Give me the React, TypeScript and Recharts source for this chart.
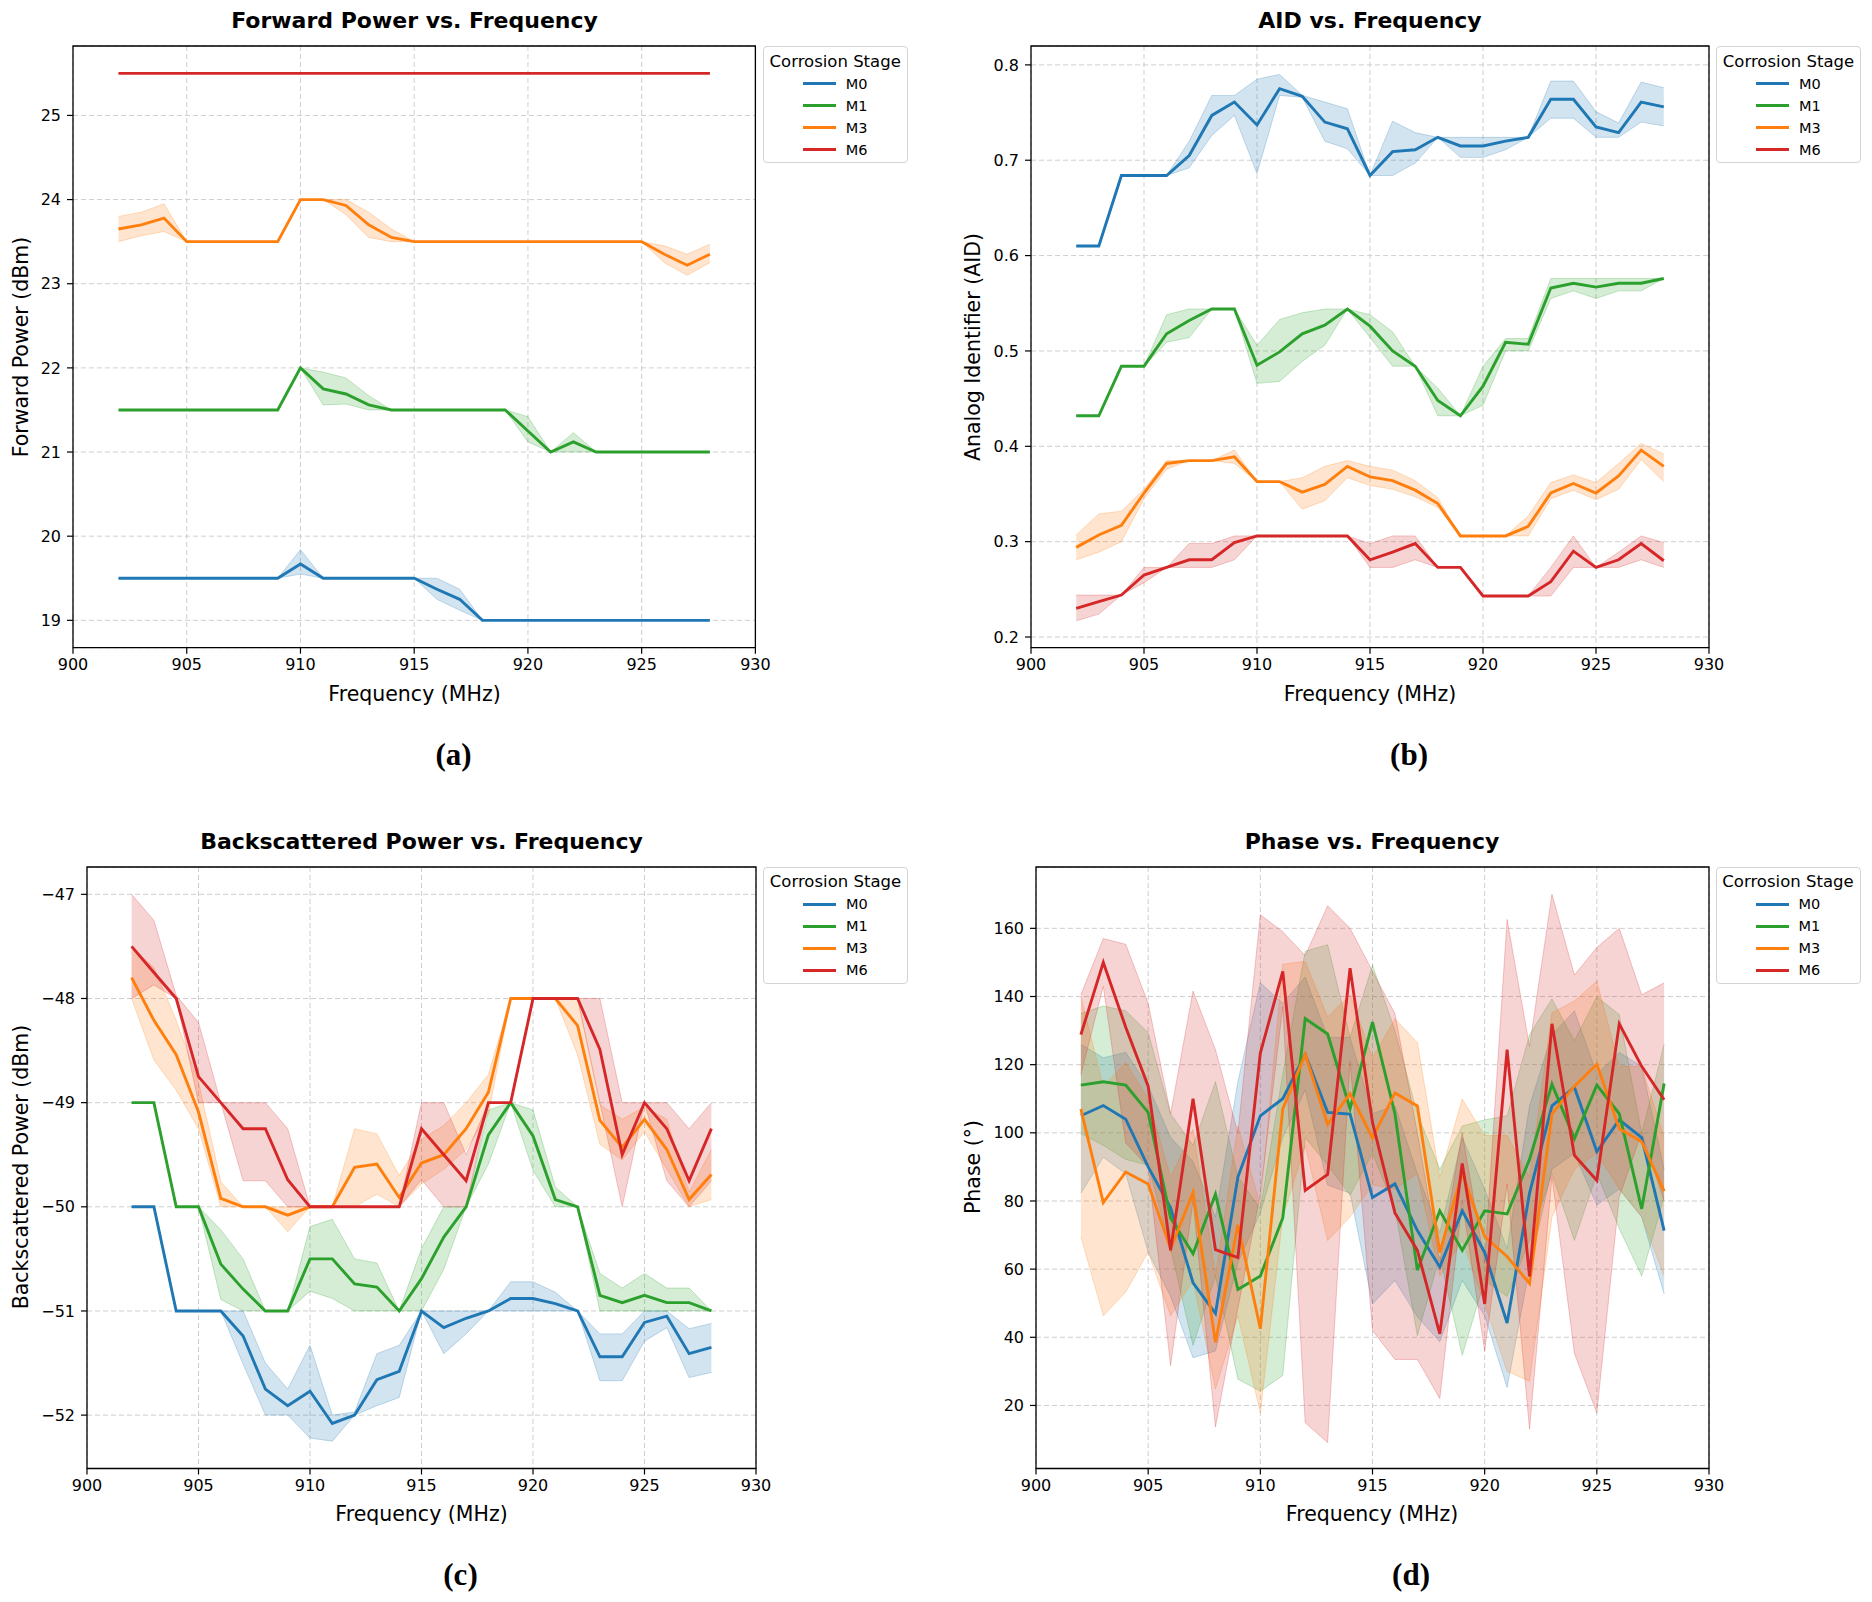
import React from 'react'
import { ComposedChart, Line, Area, XAxis, YAxis, CartesianGrid, ReferenceArea } from 'recharts'

const freqs = [902, 903, 904, 905, 906, 907, 908, 909, 910, 911, 912, 913, 914, 915, 916, 917, 918, 919, 920, 921, 922, 923, 924, 925, 926, 927, 928]
const xTicks = [900, 905, 910, 915, 920, 925, 930]
const stages = ['M0', 'M1', 'M3', 'M6']
const colors = ['#1f77b4', '#2ca02c', '#ff7f0e', '#d62728']

// (a) forward power, dBm
const fpM0 = [19.5, 19.5, 19.5, 19.5, 19.5, 19.5, 19.5, 19.5, 19.67, 19.5, 19.5, 19.5, 19.5, 19.5, 19.37, 19.25, 19.0, 19.0, 19.0, 19.0, 19.0, 19.0, 19.0, 19.0, 19.0, 19.0, 19.0]
const fpM0Lo = [19.5, 19.5, 19.5, 19.5, 19.5, 19.5, 19.5, 19.5, 19.55, 19.5, 19.5, 19.5, 19.5, 19.5, 19.25, 19.12, 19.0, 19.0, 19.0, 19.0, 19.0, 19.0, 19.0, 19.0, 19.0, 19.0, 19.0]
const fpM0Hi = [19.5, 19.5, 19.5, 19.5, 19.5, 19.5, 19.5, 19.5, 19.84, 19.5, 19.5, 19.5, 19.5, 19.5, 19.5, 19.37, 19.0, 19.0, 19.0, 19.0, 19.0, 19.0, 19.0, 19.0, 19.0, 19.0, 19.0]
const fpM1 = [21.5, 21.5, 21.5, 21.5, 21.5, 21.5, 21.5, 21.5, 22.0, 21.75, 21.69, 21.56, 21.5, 21.5, 21.5, 21.5, 21.5, 21.5, 21.25, 21.0, 21.12, 21.0, 21.0, 21.0, 21.0, 21.0, 21.0]
const fpM1Lo = [21.5, 21.5, 21.5, 21.5, 21.5, 21.5, 21.5, 21.5, 22.0, 21.56, 21.57, 21.5, 21.5, 21.5, 21.5, 21.5, 21.5, 21.5, 21.12, 21.0, 21.0, 21.0, 21.0, 21.0, 21.0, 21.0, 21.0]
const fpM1Hi = [21.5, 21.5, 21.5, 21.5, 21.5, 21.5, 21.5, 21.5, 22.0, 21.95, 21.88, 21.67, 21.5, 21.5, 21.5, 21.5, 21.5, 21.5, 21.42, 21.0, 21.23, 21.0, 21.0, 21.0, 21.0, 21.0, 21.0]
const fpM3 = [23.65, 23.7, 23.78, 23.5, 23.5, 23.5, 23.5, 23.5, 24.0, 24.0, 23.93, 23.7, 23.55, 23.5, 23.5, 23.5, 23.5, 23.5, 23.5, 23.5, 23.5, 23.5, 23.5, 23.5, 23.35, 23.22, 23.35]
const fpM3Lo = [23.5, 23.57, 23.62, 23.5, 23.5, 23.5, 23.5, 23.5, 24.0, 24.0, 23.82, 23.55, 23.5, 23.5, 23.5, 23.5, 23.5, 23.5, 23.5, 23.5, 23.5, 23.5, 23.5, 23.5, 23.25, 23.1, 23.25]
const fpM3Hi = [23.8, 23.85, 23.95, 23.5, 23.5, 23.5, 23.5, 23.5, 24.0, 24.0, 24.0, 23.85, 23.65, 23.5, 23.5, 23.5, 23.5, 23.5, 23.5, 23.5, 23.5, 23.5, 23.5, 23.5, 23.45, 23.35, 23.47]
const fpM6 = [25.5, 25.5, 25.5, 25.5, 25.5, 25.5, 25.5, 25.5, 25.5, 25.5, 25.5, 25.5, 25.5, 25.5, 25.5, 25.5, 25.5, 25.5, 25.5, 25.5, 25.5, 25.5, 25.5, 25.5, 25.5, 25.5, 25.5]

// (b) analog identifier
const aidM0 = [0.61, 0.61, 0.684, 0.684, 0.684, 0.705, 0.747, 0.761, 0.737, 0.775, 0.767, 0.74, 0.733, 0.684, 0.709, 0.711, 0.724, 0.715, 0.715, 0.72, 0.724, 0.764, 0.764, 0.735, 0.729, 0.761, 0.756]
const aidM0Lo = [0.61, 0.61, 0.684, 0.684, 0.684, 0.692, 0.726, 0.747, 0.686, 0.768, 0.766, 0.72, 0.712, 0.684, 0.684, 0.697, 0.724, 0.703, 0.703, 0.711, 0.724, 0.744, 0.744, 0.724, 0.724, 0.74, 0.736]
const aidM0Hi = [0.61, 0.61, 0.684, 0.684, 0.684, 0.72, 0.768, 0.768, 0.785, 0.79, 0.768, 0.761, 0.754, 0.684, 0.741, 0.729, 0.724, 0.724, 0.724, 0.724, 0.724, 0.783, 0.783, 0.751, 0.739, 0.782, 0.776]
const aidM1 = [0.432, 0.432, 0.484, 0.484, 0.518, 0.532, 0.544, 0.544, 0.485, 0.499, 0.518, 0.527, 0.544, 0.526, 0.5, 0.484, 0.448, 0.432, 0.463, 0.509, 0.507, 0.566, 0.571, 0.567, 0.571, 0.571, 0.576]
const aidM1Lo = [0.432, 0.432, 0.484, 0.484, 0.509, 0.514, 0.544, 0.544, 0.466, 0.468, 0.489, 0.506, 0.544, 0.514, 0.484, 0.484, 0.432, 0.432, 0.443, 0.5, 0.5, 0.555, 0.563, 0.555, 0.563, 0.563, 0.576]
const aidM1Hi = [0.432, 0.432, 0.484, 0.484, 0.538, 0.544, 0.544, 0.544, 0.506, 0.533, 0.54, 0.544, 0.544, 0.538, 0.52, 0.484, 0.461, 0.432, 0.484, 0.513, 0.513, 0.576, 0.576, 0.576, 0.576, 0.576, 0.576]
const aidM3 = [0.294, 0.307, 0.317, 0.351, 0.382, 0.385, 0.385, 0.389, 0.363, 0.363, 0.352, 0.36, 0.379, 0.368, 0.364, 0.354, 0.34, 0.306, 0.306, 0.306, 0.316, 0.351, 0.361, 0.351, 0.369, 0.396, 0.379]
const aidM3Lo = [0.281, 0.289, 0.3, 0.345, 0.376, 0.385, 0.385, 0.382, 0.363, 0.363, 0.334, 0.343, 0.367, 0.359, 0.355, 0.347, 0.336, 0.306, 0.306, 0.306, 0.306, 0.345, 0.354, 0.344, 0.355, 0.386, 0.363]
const aidM3Hi = [0.307, 0.329, 0.332, 0.355, 0.385, 0.385, 0.385, 0.396, 0.363, 0.363, 0.367, 0.379, 0.385, 0.379, 0.375, 0.364, 0.346, 0.306, 0.306, 0.306, 0.327, 0.362, 0.37, 0.362, 0.382, 0.403, 0.392]
const aidM6 = [0.23, 0.237, 0.244, 0.265, 0.273, 0.281, 0.281, 0.299, 0.306, 0.306, 0.306, 0.306, 0.306, 0.281, 0.289, 0.298, 0.273, 0.273, 0.243, 0.243, 0.243, 0.258, 0.29, 0.273, 0.281, 0.298, 0.28]
const aidM6Lo = [0.217, 0.224, 0.244, 0.257, 0.273, 0.273, 0.273, 0.281, 0.306, 0.306, 0.306, 0.306, 0.306, 0.273, 0.273, 0.281, 0.273, 0.273, 0.243, 0.243, 0.243, 0.243, 0.273, 0.273, 0.273, 0.281, 0.273]
const aidM6Hi = [0.244, 0.244, 0.244, 0.273, 0.273, 0.298, 0.298, 0.306, 0.306, 0.306, 0.306, 0.306, 0.306, 0.298, 0.306, 0.306, 0.273, 0.273, 0.243, 0.243, 0.243, 0.273, 0.306, 0.273, 0.289, 0.306, 0.299]

// (c) backscattered power, dBm
const bpM0 = [-50, -50, -51, -51, -51, -51.24, -51.75, -51.91, -51.77, -52.08, -52.0, -51.66, -51.58, -51.0, -51.16, -51.07, -51.0, -50.88, -50.88, -50.93, -51.0, -51.44, -51.44, -51.11, -51.05, -51.41, -51.35]
const bpM0Lo = [-50, -50, -51, -51, -51, -51.51, -52.0, -52.0, -52.22, -52.25, -52.0, -51.91, -51.83, -51.0, -51.41, -51.22, -51.0, -51.0, -51.0, -51.0, -51.0, -51.67, -51.67, -51.29, -51.16, -51.64, -51.59]
const bpM0Hi = [-50, -50, -51, -51, -51, -51.0, -51.5, -51.75, -51.33, -52.0, -51.97, -51.41, -51.33, -51.0, -51.0, -51.0, -51.0, -50.72, -50.72, -50.82, -51.0, -51.22, -51.22, -51.0, -51.0, -51.17, -51.12]
const bpM1 = [-49, -49, -50, -50, -50.55, -50.79, -51, -51, -50.5, -50.5, -50.74, -50.77, -51, -50.69, -50.29, -50, -49.31, -49, -49.32, -49.93, -50, -50.85, -50.92, -50.85, -50.92, -50.92, -51]
const bpM1Lo = [-49, -49, -50, -50, -50.89, -51, -51, -51, -50.81, -50.88, -51, -51, -51, -51, -50.6, -50, -49.59, -49, -49.65, -50, -50, -51, -51, -51, -51, -51, -51]
const bpM1Hi = [-49, -49, -50, -50, -50.22, -50.5, -51, -51, -50.19, -50.12, -50.5, -50.54, -51, -50.4, -50.0, -50, -49.07, -49, -49.07, -49.81, -50, -50.64, -50.78, -50.64, -50.78, -50.78, -51]
const bpM3 = [-47.8, -48.21, -48.54, -49.09, -49.92, -50, -50, -50.08, -50, -50, -49.62, -49.59, -49.91, -49.58, -49.5, -49.25, -48.9, -48, -48, -48, -48.26, -49.17, -49.43, -49.16, -49.45, -49.93, -49.69]
const bpM3Lo = [-48, -48.59, -48.88, -49.25, -50, -50, -50, -50.24, -50, -50, -50, -49.88, -50, -49.78, -49.64, -49.45, -49.11, -48, -48, -48, -48.54, -49.4, -49.55, -49.28, -49.64, -50, -49.93]
const bpM3Hi = [-47.51, -47.7, -48.21, -48.8, -49.76, -50, -50, -50, -50, -50, -49.25, -49.3, -49.7, -49.35, -49.22, -49.0, -48.73, -48, -48, -48, -48, -49.02, -49.16, -49.04, -49.16, -49.86, -49.45]
const bpM6 = [-47.5, -47.75, -48, -48.75, -49, -49.25, -49.25, -49.74, -50, -50, -50, -50, -50, -49.25, -49.5, -49.75, -49, -49, -48, -48, -48, -48.49, -49.5, -49, -49.25, -49.75, -49.25]
const bpM6Lo = [-48, -47.87, -48, -49, -49, -49.75, -49.75, -50, -50, -50, -50, -50, -50, -49.74, -50, -50, -49, -49, -48, -48, -48, -49, -50, -49, -49.75, -50, -49.75]
const bpM6Hi = [-47, -47.25, -47.97, -48.23, -49, -49, -49, -49.25, -50, -50, -50, -50, -50, -49, -49, -49.5, -49, -49, -48, -48, -48, -48, -49, -49, -49, -49.25, -49]

// (d) phase, degrees
const phM0 = [105, 108, 104, 90, 78, 56, 47, 87, 105, 110, 123, 106, 105.5, 81, 85, 71.3, 60.6, 77.1, 64.9, 44.2, 82.3, 107.9, 113.4, 94.5, 103.8, 98.6, 71.3]
const phM0Lo = [82.3, 92.8, 88, 65, 52, 34, 36, 62, 76.5, 98.6, 112.6, 84.7, 82.3, 49.8, 56.7, 46, 38.7, 56.7, 46.3, 25.3, 60.3, 89.3, 94, 78.8, 83.5, 75.3, 52.7]
const phM0Hi = [126, 122, 123.6, 113.7, 98.6, 91.6, 75.3, 115, 144, 138, 145.7, 128, 128, 105.6, 108, 88, 70.7, 98.6, 83.5, 66, 107.9, 128.8, 135.8, 117.2, 123.6, 119.5, 89.3]
const phM1 = [114, 115, 114, 106, 75, 64.5, 82, 54, 58, 75, 133.5, 129, 107, 132.5, 105.6, 59.7, 77.1, 65.5, 77.1, 76.2, 92.2, 114.3, 98.3, 114, 105.6, 77.7, 114.5]
const phM1Lo = [99.8, 96.3, 92.2, 90.5, 66, 37.6, 58, 27.7, 24.2, 28.8, 98.6, 90.5, 81.7, 94, 77.7, 40.5, 63.7, 34.7, 56.7, 52, 68.4, 88, 68.4, 88, 71.9, 58, 81.2]
const phM1Hi = [135, 137.2, 135.8, 129.4, 105.6, 96.3, 115, 87, 77.7, 117.2, 153.3, 155.2, 128, 149.2, 130, 105.6, 89.3, 102, 103.8, 105, 128.8, 139.3, 127, 139.9, 134.7, 99.8, 126]
const phM3 = [107, 79.5, 88.5, 85, 66, 82.5, 38.5, 73, 42.5, 107, 123, 102.5, 111.5, 98.5, 111.7, 107.9, 64.9, 88.1, 69.5, 63.7, 55.8, 105.6, 113.7, 120.1, 101.2, 97.4, 82.9]
const phM3Lo = [69.5, 46.3, 53.3, 65, 46.3, 56.7, 24.8, 46.3, 17.8, 75.3, 96.3, 68.4, 75.3, 84.7, 83.5, 88, 58, 68.4, 49.8, 30, 27.1, 75.3, 89.3, 94, 83.5, 75.3, 58]
const phM3Hi = [140, 113.7, 120.7, 110, 87, 101, 58, 102, 78.8, 149.5, 150.3, 134, 140.5, 122, 133.5, 126.5, 87, 109.9, 99.2, 99.2, 87, 135.2, 138.7, 144.5, 119.5, 119.5, 98.6]
const phM6 = [128.8, 150, 131, 113.7, 65.5, 110, 65.7, 63.4, 123.4, 147.4, 83.1, 87.8, 148.3, 103, 76.5, 65.5, 41, 91, 49.8, 124.4, 57.9, 132, 93.4, 86, 132, 119.5, 109.7]
const phM6Lo = [117, 143, 97, 90, 31.7, 80, 13.7, 48.6, 82, 137, 14.9, 9.1, 121, 42, 33.5, 33.5, 22, 80, 36, 85, 13.1, 87, 35.3, 17.8, 81.2, 100, 80]
const phM6Hi = [140.5, 157, 155.3, 138, 105.6, 141.6, 124.4, 100, 164, 159, 152, 166.6, 160, 147.4, 135, 100, 62, 100, 62, 162.6, 125.3, 170, 146.3, 154.4, 160, 140.5, 144]

const panels = [
  {
    key: 'a', title: 'Forward Power vs. Frequency', ylabel: 'Forward Power (dBm)',
    domain: [18.675, 25.825], ticks: [19, 20, 21, 22, 23, 24, 25],
    box: { left: 73.3, top: 46, right: 755.7, bottom: 647.7 }, ylabelX: 21,
    series: [[fpM0, fpM0Lo, fpM0Hi], [fpM1, fpM1Lo, fpM1Hi], [fpM3, fpM3Lo, fpM3Hi], [fpM6, fpM6, fpM6]],
  },
  {
    key: 'b', title: 'AID vs. Frequency', ylabel: 'Analog Identifier (AID)',
    domain: [0.1888, 0.8198], ticks: [0.2, 0.3, 0.4, 0.5, 0.6, 0.7, 0.8],
    box: { left: 1031, top: 46, right: 1709, bottom: 647.7 }, ylabelX: 973,
    series: [[aidM0, aidM0Lo, aidM0Hi], [aidM1, aidM1Lo, aidM1Hi], [aidM3, aidM3Lo, aidM3Hi], [aidM6, aidM6Lo, aidM6Hi]],
  },
  {
    key: 'c', title: 'Backscattered Power vs. Frequency', ylabel: 'Backscattered Power (dBm)',
    domain: [-52.5125, -46.7375], ticks: [-52, -51, -50, -49, -48, -47],
    box: { left: 87, top: 866.5, right: 756, bottom: 1468 }, ylabelX: 21,
    series: [[bpM0, bpM0Lo, bpM0Hi], [bpM1, bpM1Lo, bpM1Hi], [bpM3, bpM3Lo, bpM3Hi], [bpM6, bpM6Lo, bpM6Hi]],
  },
  {
    key: 'd', title: 'Phase vs. Frequency', ylabel: 'Phase (°)',
    domain: [1.5, 178], ticks: [20, 40, 60, 80, 100, 120, 140, 160],
    box: { left: 1035.5, top: 866.5, right: 1708.5, bottom: 1468 }, ylabelX: 973,
    series: [[phM0, phM0Lo, phM0Hi], [phM1, phM1Lo, phM1Hi], [phM3, phM3Lo, phM3Hi], [phM6, phM6Lo, phM6Hi]],
  },
]

const FONT = '"DejaVu Sans", sans-serif'
const Y_W = 80
const M_TOP = 10
const M_RIGHT = 30
const X_H = 40

const fmt = (v: number) => String(v).replace('-', '\u2212')

const Panel = ({ p }: { p: any }) => {
  const rows = freqs.map((f, i) => {
    const r: any = { f }
    p.series.forEach((s: number[][], k: number) => {
      r['v' + k] = s[0][i]
      r['b' + k] = [s[1][i], s[2][i]]
    })
    return r
  })
  const { left, top, right, bottom } = p.box
  const w = right - left
  const h = bottom - top
  const cx = (left + right) / 2
  const tick = { fontSize: 16, fill: '#000', fontFamily: FONT }

  return (
    <>
      <div style={{ position: 'absolute', left: cx, top: top - 26, transform: 'translate(-50%, -50%)', fontSize: 22, fontWeight: 'bold', whiteSpace: 'nowrap' }}>
        {p.title}
      </div>
      <div style={{ position: 'absolute', left: left - Y_W, top: top - M_TOP }}>
        <ComposedChart width={w + Y_W + M_RIGHT} height={h + M_TOP + X_H} data={rows} margin={{ top: M_TOP, right: M_RIGHT, left: 0, bottom: 0 }}>
          <CartesianGrid strokeDasharray="5 3" stroke="#cfcfcf" strokeWidth={1} />
          <XAxis dataKey="f" type="number" domain={[900, 930]} ticks={xTicks} allowDataOverflow height={X_H}
            tick={tick} tickLine={{ stroke: '#000', strokeWidth: 1.2 }} tickSize={6} tickMargin={5} axisLine={false} />
          <YAxis type="number" domain={p.domain} ticks={p.ticks} allowDataOverflow width={Y_W} tickFormatter={fmt}
            tick={tick} tickLine={{ stroke: '#000', strokeWidth: 1.2 }} tickSize={6} tickMargin={6} axisLine={false} />
          {stages.map((s, k) => (
            <Area key={'b' + s} type="linear" dataKey={'b' + k} stroke={colors[k]} strokeOpacity={0.25} strokeWidth={1}
              fill={colors[k]} fillOpacity={0.2} isAnimationActive={false} dot={false} activeDot={false} />
          ))}
          {stages.map((s, k) => (
            <Line key={'v' + s} type="linear" dataKey={'v' + k} stroke={colors[k]} strokeWidth={2.9}
              dot={false} activeDot={false} isAnimationActive={false} />
          ))}
          <ReferenceArea x1={900} x2={930} y1={p.domain[0]} y2={p.domain[1]} fill="none" stroke="#000" strokeWidth={1.3} ifOverflow="visible" />
        </ComposedChart>
      </div>
      <div style={{ position: 'absolute', left: p.ylabelX, top: (top + bottom) / 2, transform: 'translate(-50%, -50%) rotate(-90deg)', fontSize: 20.5, whiteSpace: 'nowrap' }}>
        {p.ylabel}
      </div>
      <div style={{ position: 'absolute', left: cx, top: bottom + 46, transform: 'translate(-50%, -50%)', fontSize: 20.5, whiteSpace: 'nowrap' }}>
        Frequency (MHz)
      </div>
      <div style={{ position: 'absolute', left: right + 7, top, width: 145, height: 117, boxSizing: 'border-box', border: '1px solid #d4d4d4', borderRadius: 4, background: '#fff' }}>
        <div style={{ position: 'absolute', left: 0, width: '100%', top: 14.5, transform: 'translateY(-50%)', textAlign: 'center', fontSize: 16.5, lineHeight: 1, whiteSpace: 'nowrap' }}>
          Corrosion Stage
        </div>
        {stages.map((s, k) => (
          <React.Fragment key={s}>
            <div style={{ position: 'absolute', left: 39, top: 36.5 + k * 22 - 1.5, width: 33, height: 3, background: colors[k] }} />
            <div style={{ position: 'absolute', left: 82, top: 36.5 + k * 22, transform: 'translateY(-50%)', fontSize: 14.5, lineHeight: 1 }}>{s}</div>
          </React.Fragment>
        ))}
      </div>
      <div style={{ position: 'absolute', left: cx + 39, top: bottom + 107, transform: 'translate(-50%, -50%)', fontSize: 31, fontWeight: 'bold', fontFamily: '"Liberation Serif", serif' }}>
        ({p.key})
      </div>
    </>
  )
}

export default function App() {
  return (
    <div style={{ position: 'absolute', left: 0, top: 0, width: 1872, height: 1602, background: '#fff', fontFamily: FONT, color: '#000' }}>
      {panels.map((p) => <Panel key={p.key} p={p} />)}
    </div>
  )
}
